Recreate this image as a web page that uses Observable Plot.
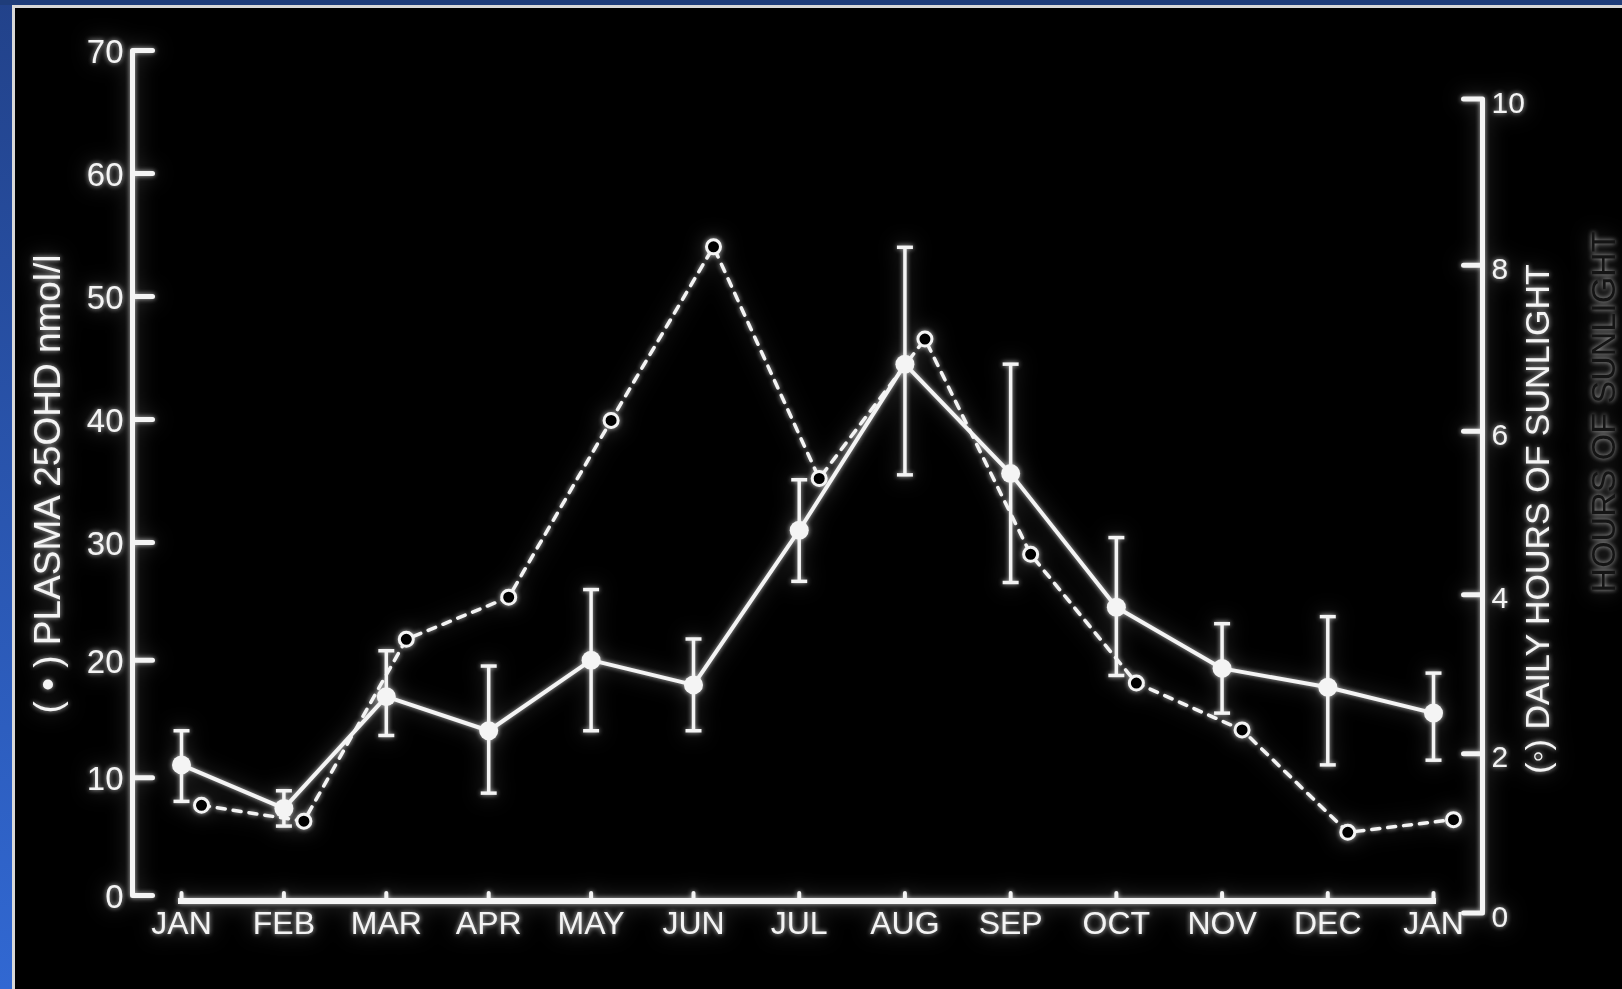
<!DOCTYPE html>
<html>
<head>
<meta charset="utf-8">
<script src="https://cdn.jsdelivr.net/npm/d3@7"></script>
<script src="https://cdn.jsdelivr.net/npm/@observablehq/plot@0.6"></script>
<style>
html, body { margin: 0; padding: 0; background: #000; width: 1622px; height: 989px; overflow: hidden; }
#chart { position: absolute; left: 0; top: 0; }
#chart svg { filter: drop-shadow(0 0 2.5px rgba(255,255,255,0.7)) drop-shadow(0 0 10px rgba(255,255,255,0.25)); }
.blue-left { position: absolute; left: 0; top: 0; width: 12px; height: 989px; background: linear-gradient(#22428a, #3168d2); }
.blue-top { position: absolute; left: 0; top: 0; width: 1622px; height: 5px; background: #1f3d7a; }
.white-left { position: absolute; left: 12px; top: 5px; width: 3px; height: 984px; background: #d8d8d8; }
.white-top { position: absolute; left: 12px; top: 5px; width: 1610px; height: 3px; background: #d8d8d8; }
</style>
</head>
<body>
<div id="chart"></div>
<div class="blue-left"></div>
<div class="blue-top"></div>
<div class="white-left"></div>
<div class="white-top"></div>
<script>
// ---- data ----
const months = ["JAN","FEB","MAR","APR","MAY","JUN","JUL","AUG","SEP","OCT","NOV","DEC","JAN"];
const plasma     = [11.1, 7.4, 16.9, 14.0, 20.0, 17.9, 31.0, 44.5, 35.6, 24.5, 19.3, 17.7, 15.5];
const plasmaLow  = [ 8.0, 5.9, 13.6,  8.7, 14.0, 14.0, 26.7, 35.5, 26.6, 18.7, 15.5, 11.1, 11.5];
const plasmaHigh = [14.0, 8.9, 20.8, 19.5, 26.0, 21.8, 35.1, 54.0, 44.5, 30.4, 23.1, 23.7, 18.9];
const sunlight   = [1.35, 1.15, 3.44, 3.97, 6.13, 8.22, 5.43, 7.11, 4.51, 2.89, 2.30, 1.01, 1.17];
const leftTicks  = [0, 10, 20, 30, 40, 50, 60, 70];
const rightTicks = [0, 2, 4, 6, 8, 10];
const leftTitle  = "( • ) PLASMA 25OHD nmol/l";
const rightTitle = "(◦) DAILY HOURS OF SUNLIGHT";
const ghostTitle = "HOURS OF SUNLIGHT";

// ---- scale configuration (piecewise, to follow the photographed figure) ----
const xScale = {domain: [-0.47, 0, 5, 12, 12.47], range: [132, 181, 693, 1433, 1482]};
const yScale = {domain: [-1.5, 0, 30, 70], range: [913, 895, 542, 50]};
const rightAxis = {perHour: 6.75, offset: -1.45}; // sunlight hours -> left-axis units
const hToV = h => rightAxis.perHour * h + rightAxis.offset;
const xAxisAt = -0.45;
const xFirst = xScale.domain[0], xLast = xScale.domain[xScale.domain.length - 1];

const W = "#f4f4f4";
const FONT = "'Liberation Sans', Arial, Helvetica, sans-serif";
const idx = d3.range(months.length);

const lineShape = { draw(ctx, l) { ctx.moveTo(0, 0); ctx.lineTo(0, -l); } };
const capSymbol = { draw(ctx, size) { const w = Math.sqrt(size / Math.PI); ctx.moveTo(-w, 0); ctx.lineTo(w, 0); } };

const chart = Plot.plot({
  width: 1622,
  height: 989,
  marginLeft: 132,
  marginRight: 140,
  marginTop: 50,
  marginBottom: 76,
  x: {type: "linear", domain: xScale.domain, range: xScale.range, axis: null},
  y: {type: "linear", domain: yScale.domain, range: yScale.range, axis: null},
  style: {background: "transparent", color: W, fontFamily: FONT, overflow: "visible"},
  marks: [
    // left axis
    Plot.ruleX([xFirst], {x: d => d, y1: 0, y2: 70, stroke: W, strokeWidth: 5}),
    Plot.vector(leftTicks, {y: d => d, frameAnchor: "left", length: 20, rotate: 90, anchor: "start", shape: lineShape, stroke: W, strokeWidth: 5}),
    Plot.text(leftTicks, {y: d => d, text: d => String(d), frameAnchor: "left", textAnchor: "end", dx: -9, dy: 2, fontSize: 33, fill: W}),
    // right axis
    Plot.ruleX([xLast], {x: d => d, y1: hToV(0), y2: hToV(10), stroke: W, strokeWidth: 5}),
    Plot.vector(rightTicks, {y: hToV, frameAnchor: "right", length: 19, rotate: -90, anchor: "start", shape: lineShape, stroke: W, strokeWidth: 5}),
    Plot.text(rightTicks, {y: hToV, text: d => String(d), frameAnchor: "right", textAnchor: "start", dx: 9, dy: 4, fontSize: 30, fill: W}),
    // x axis
    Plot.ruleY([xAxisAt], {y: d => d, x1: 0, x2: months.length - 1, stroke: W, strokeWidth: 6, strokeLinecap: "square"}),
    Plot.vector(idx, {x: d => d, y: () => xAxisAt, length: 8, rotate: 0, anchor: "start", shape: lineShape, stroke: W, strokeWidth: 4}),
    Plot.text(idx, {x: d => d, text: i => months[i], frameAnchor: "bottom", lineAnchor: "top", dy: -2, fontSize: 32, fill: W}),
    // axis titles
    Plot.text([leftTitle], {text: d => d, frameAnchor: "left", textAnchor: "middle", dx: -84, dy: 2, rotate: -90, fontSize: 37, fill: W}),
    Plot.text([rightTitle], {text: d => d, frameAnchor: "right", textAnchor: "middle", dx: 56, dy: 37, rotate: -90, fontSize: 34, fill: W}),
    Plot.text([ghostTitle], {text: d => d, frameAnchor: "right", textAnchor: "middle", dx: 122, dy: -70, rotate: -90, fontSize: 34, fill: "#141414"}),
    // sunlight (dashed, open circles)
    Plot.line(idx, {x: d => d, y: i => hToV(sunlight[i]), dx: 20, stroke: W, strokeWidth: 3.5, strokeDasharray: "8,8"}),
    Plot.dot(idx, {x: d => d, y: i => hToV(sunlight[i]), dx: 20, r: 7, fill: "black", stroke: W, strokeWidth: 3}),
    // plasma (solid, filled dots, error bars)
    Plot.ruleX(idx, {x: d => d, y1: i => plasmaLow[i], y2: i => plasmaHigh[i], stroke: W, strokeWidth: 3.5}),
    Plot.dot(idx, {x: d => d, y: i => plasmaLow[i], symbol: capSymbol, r: 8, fill: "none", stroke: W, strokeWidth: 3.5}),
    Plot.dot(idx, {x: d => d, y: i => plasmaHigh[i], symbol: capSymbol, r: 8, fill: "none", stroke: W, strokeWidth: 3.5}),
    Plot.line(idx, {x: d => d, y: i => plasma[i], stroke: W, strokeWidth: 4}),
    Plot.dot(idx, {x: d => d, y: i => plasma[i], r: 9.5, fill: W, stroke: "none"})
  ]
});
document.getElementById("chart").appendChild(chart);
</script>
</body>
</html>
